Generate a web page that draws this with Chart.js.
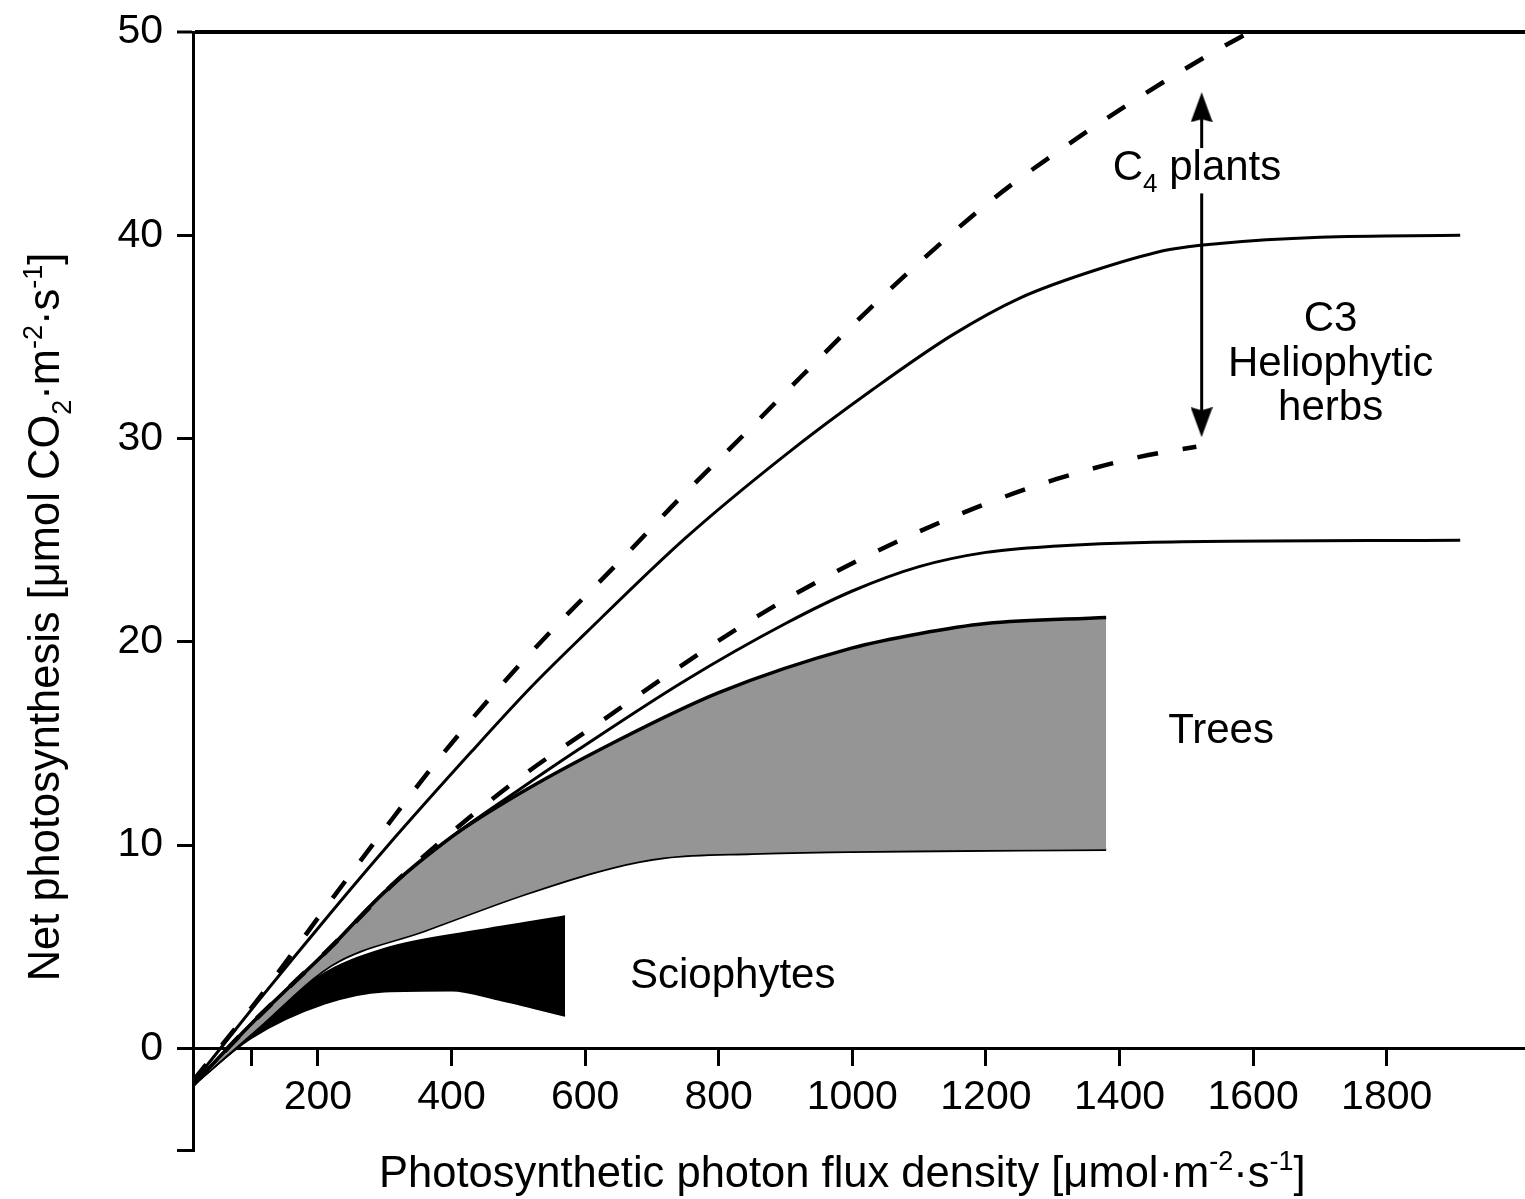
<!DOCTYPE html>
<html>
<head>
<meta charset="utf-8">
<title>Net photosynthesis vs photon flux density</title>
<script src="https://cdn.jsdelivr.net/npm/chart.js@4.4.0/dist/chart.umd.min.js"></script>
<style>
    html, body { margin: 0; padding: 0; background: #fff; }
</style>
</head>
<body>
<canvas id="photoChart" width="1525" height="1199"></canvas>
<script>
// values: x = PPFD, y = net photosynthesis
const c4X = [13, 110, 220, 300, 380, 470, 560, 650, 740, 835, 925, 1020, 1115, 1215, 1320, 1430, 1540, 1595];
const c4Y = [-1.6, 2.4, 7.3, 10.8, 14.2, 17.7, 20.9, 23.9, 27.0, 30.1, 33.1, 36.2, 39.1, 41.9, 44.4, 46.8, 49.0, 50];

const c3HighX = [13, 110, 220, 300, 430, 520, 600, 750, 900, 1030, 1150, 1250, 1375, 1475, 1550, 1700, 1910];
const c3HighY = [-1.7, 2.3, 6.7, 9.8, 14.6, 17.8, 20.4, 25.1, 29.2, 32.4, 35.1, 36.9, 38.4, 39.3, 39.6, 39.9, 40.0];

const c3LowDashX = [13, 100, 220, 310, 410, 510, 620, 725, 840, 950, 1065, 1185, 1305, 1430, 1515];
const c3LowDashY = [-1.8, 1.2, 5.0, 8.0, 10.9, 13.5, 16.0, 18.4, 20.9, 23.0, 24.9, 26.6, 28.0, 29.1, 29.6];

const c3LowX = [13, 100, 220, 300, 400, 500, 590, 750, 900, 1000, 1100, 1200, 1300, 1450, 1910];
const c3LowY = [-1.8, 1.2, 5.0, 7.7, 10.4, 12.7, 14.7, 18.1, 20.9, 22.5, 23.7, 24.4, 24.7, 24.9, 25.0];

const treesTopX = [13, 100, 220, 300, 400, 500, 640, 800, 1000, 1100, 1200, 1380];
const treesTopY = [-1.8, 1.2, 5.0, 7.7, 10.4, 12.5, 15.0, 17.5, 19.7, 20.4, 20.9, 21.2];
const treesLowX = [13, 110, 220, 360, 510, 640, 720, 850, 1000, 1380];
const treesLowY = [-1.8, 1.0, 4.1, 5.8, 7.6, 8.9, 9.4, 9.6, 9.7, 9.8];

const scioTopX = [13, 110, 200, 300, 440, 570];
const scioTopY = [-1.8, 0.9, 3.5, 4.9, 5.8, 6.5];
const scioLowX = [13, 100, 210, 300, 400, 470, 570];
const scioLowY = [-1.8, 0.5, 2.2, 2.8, 2.85, 2.4, 1.6];

const arrowX = [1523, 1523];
const arrowY = [30.8, 46.3];

const xTicks = [100, 200, 400, 600, 800, 1000, 1200, 1400, 1600, 1800];
const yTicks = [-5, 0, 10, 20, 30, 40, 50];

const FONT = "'Liberation Sans', Arial, Helvetica, sans-serif";

// text placed in data units, as in the figure
const notes = [
    {parts: [['C'], ['4', 'sub'], [' plants']], x: 1516, y: 42.7, blank: true},
    {parts: [['C3']], x: 1716, y: 35.3},
    {parts: [['Heliophytic']], x: 1716, y: 33.1},
    {parts: [['herbs']], x: 1716, y: 30.9},
    {parts: [['Trees']], x: 1552, y: 15.0},
    {parts: [['Sciophytes']], x: 821, y: 2.95}
];
const xTitle = [['Photosynthetic photon flux density [\u03bcmol\u00b7m'], ['-2', 'sup'], ['\u00b7s'], ['-1', 'sup'], [']']];
const yTitle = [['Net photosynthesis [\u03bcmol CO'], ['2', 'sub'], ['\u00b7m'], ['-2', 'sup'], ['\u00b7s'], ['-1', 'sup'], [']']];

function pts(xs, ys) {
    return xs.map(function (x, i) { return {x: x, y: ys[i]}; });
}

function fontFor(p, size) {
    return (p[1] ? Math.round(size * 0.62) : size) + 'px ' + FONT;
}

function drawRich(ctx, parts, cx, baseY, size, blank) {
    let w = 0;
    parts.forEach(function (p) { ctx.font = fontFor(p, size); w += ctx.measureText(p[0]).width; });
    let x = cx - w / 2;
    if (blank) {
        ctx.fillStyle = '#fff';
        ctx.fillRect(x - 2, baseY - size * 0.77, w + 4, size * 1.08);
        ctx.fillStyle = '#000';
    }
    ctx.textAlign = 'left';
    ctx.textBaseline = 'alphabetic';
    parts.forEach(function (p) {
        ctx.font = fontFor(p, size);
        let dy = 0;
        if (p[1] === 'sub') dy = size * 0.28;
        if (p[1] === 'sup') dy = -size * 0.4;
        ctx.fillText(p[0], x, baseY + dy);
        x += ctx.measureText(p[0]).width;
    });
}

function makeArrowHead() {
    const c = document.createElement('canvas');
    c.width = 22;
    c.height = 30;
    const g = c.getContext('2d');
    g.fillStyle = '#000';
    g.beginPath();
    g.moveTo(11, 0);
    g.lineTo(22, 30);
    g.lineTo(11, 27);
    g.lineTo(0, 30);
    g.closePath();
    g.fill();
    return c;
}

const textPlugin = {
    id: 'figureText',
    afterDraw: function (chart) {
        const ctx = chart.ctx;
        const xs = chart.scales.x, ys = chart.scales.y;
        ctx.save();
        ctx.fillStyle = '#000';
        notes.forEach(function (n) {
            drawRich(ctx, n.parts, xs.getPixelForValue(n.x), ys.getPixelForValue(n.y), 42, n.blank);
        });
        // axis titles
        drawRich(ctx, xTitle, xs.getPixelForValue(985), ys.getPixelForValue(0) + 139, 43.5);
        ctx.translate(59, (ys.getPixelForValue(50) + ys.getPixelForValue(-5)) / 2 + 26);
        ctx.rotate(-Math.PI / 2);
        drawRich(ctx, yTitle, 0, 0, 43.5);
        ctx.restore();
    }
};

const lineBase = {
    borderColor: '#000',
    pointRadius: 0,
    fill: false,
    cubicInterpolationMode: 'monotone'
};

const dataForGraph = {
    datasets: [
        Object.assign({}, lineBase, {label: 'C4 upper', data: pts(c4X, c4Y), borderWidth: 4.5, borderDash: [21, 25]}),
        Object.assign({}, lineBase, {label: 'C3 upper', data: pts(c3HighX, c3HighY), borderWidth: 3}),
        Object.assign({}, lineBase, {label: 'C4 lower', data: pts(c3LowDashX, c3LowDashY), borderWidth: 4.5, borderDash: [21, 25]}),
        Object.assign({}, lineBase, {label: 'C3 lower', data: pts(c3LowX, c3LowY), borderWidth: 3}),
        Object.assign({}, lineBase, {label: 'Trees top', data: pts(treesTopX, treesTopY), borderWidth: 3.5, fill: '+1', backgroundColor: '#959595'}),
        Object.assign({}, lineBase, {label: 'Trees low', data: pts(treesLowX, treesLowY), borderWidth: 3.5}),
        Object.assign({}, lineBase, {label: 'Sciophytes top', data: pts(scioTopX, scioTopY), borderWidth: 2, fill: '+1', backgroundColor: '#000'}),
        Object.assign({}, lineBase, {label: 'Sciophytes low', data: pts(scioLowX, scioLowY), borderWidth: 2}),
        {
            label: 'range arrow',
            data: pts(arrowX, arrowY),
            borderColor: '#000',
            borderWidth: 3,
            pointRadius: 12,
            pointStyle: makeArrowHead(),
            pointRotation: function (c) { return c.dataIndex === 0 ? 180 : 0; },
            fill: false
        }
    ]
};

const config = {
    type: 'line',
    data: dataForGraph,
    plugins: [textPlugin],
    options: {
        responsive: false,
        animation: false,
        devicePixelRatio: 1,
        layout: {
            autoPadding: false,
            padding: {top: 32, bottom: 49, left: 0, right: 0}
        },
        plugins: {
            legend: {display: false},
            tooltip: {enabled: false}
        },
        scales: {
            x: {
                type: 'linear',
                min: 13,
                max: 2007,
                position: {y: 0},
                afterBuildTicks: function (scale) {
                    scale.ticks = xTicks.map(function (v) { return {value: v}; });
                },
                afterFit: function (scale) {
                    scale.paddingLeft = 0;
                    scale.paddingRight = 0;
                },
                ticks: {
                    callback: function (v) { return v === 100 ? '' : String(v); },
                    font: {family: FONT, size: 41},
                    color: '#000',
                    padding: 9,
                    maxRotation: 0,
                    autoSkip: false
                },
                grid: {
                    drawOnChartArea: false,
                    drawTicks: true,
                    tickLength: 16,
                    tickWidth: 3,
                    tickColor: '#000'
                },
                border: {display: true, color: '#000', width: 3}
            },
            y: {
                type: 'linear',
                min: -5,
                max: 50,
                position: 'left',
                afterBuildTicks: function (scale) {
                    scale.ticks = yTicks.map(function (v) { return {value: v}; });
                },
                afterFit: function (scale) {
                    scale.width = 193;
                    scale.paddingTop = 0;
                    scale.paddingBottom = 0;
                },
                ticks: {
                    callback: function (v) { return v === -5 ? '' : String(v); },
                    font: {family: FONT, size: 41},
                    color: '#000',
                    padding: 14
                },
                grid: {
                    color: function (c) { return (c.tick && c.tick.value === 50) ? '#000' : 'rgba(0,0,0,0)'; },
                    lineWidth: function (c) { return (c.tick && c.tick.value === 50) ? 4 : 3; },
                    drawTicks: true,
                    tickLength: 16,
                    tickWidth: 3,
                    tickColor: '#000'
                },
                border: {display: true, color: '#000', width: 3}
            }
        }
    }
};

let ctx = document.getElementById('photoChart');
let photoChart = new Chart(ctx, config);
</script>
</body>
</html>
